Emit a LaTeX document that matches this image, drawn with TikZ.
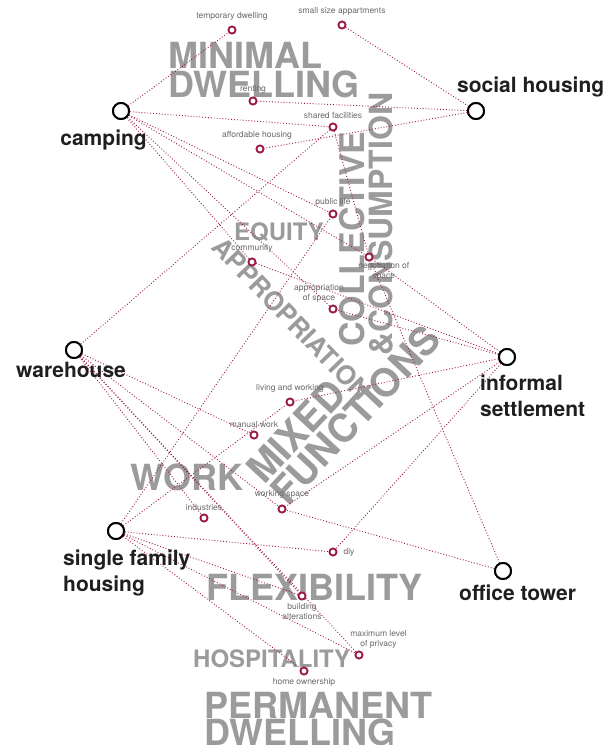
\documentclass[tikz,border=0pt]{standalone}
\usepackage{fontspec}
\setmainfont{TeX Gyre Heros}
\usetikzlibrary{positioning}
\definecolor{maroon}{RGB}{155,25,72}
\definecolor{wordgrey}{RGB}{155,155,155}
\definecolor{lblgrey}{RGB}{105,105,105}
\tikzset{
  hub/.style={circle,draw=black,line width=1.9pt,fill=white,minimum size=16pt,inner sep=0pt},
  spot/.style={circle,draw=maroon,line width=1.7pt,fill=white,minimum size=7pt,inner sep=0pt},
  link/.style={draw=maroon,dotted,line width=0.9pt},
  hublbl/.style={font=\fontsize{21}{26}\selectfont\bfseries,text=black!88,inner sep=0pt,align=left},
  spotlbl/.style={font=\fontsize{8.5}{10}\selectfont,text=lblgrey,inner sep=0pt,align=center},
  bigword/.style={font=\fontsize{36}{28}\selectfont\bfseries,text=wordgrey,inner sep=0pt,align=left},
  midword/.style={font=\fontsize{24}{25}\selectfont\bfseries,text=wordgrey,inner sep=0pt,align=left},
  tiltword/.style={font=\fontsize{#1}{28}\selectfont\bfseries,text=wordgrey,inner sep=0pt,anchor=base west}
}
\begin{document}
\begin{tikzpicture}[x=1pt,y=-1pt]
  \useasboundingbox (0,0) rectangle (611,745);
  % big grey words
  \node[bigword,anchor=base west] (minimal) at (168,68) {MINIMAL};
  \node[bigword,anchor=base west] (dwell1) at (168,97) {DWELLING};
  \node[midword,anchor=base west] (equity) at (234,240) {EQUITY};
  \node[bigword,anchor=base west] (work) at (130,490) {WORK};
  \node[bigword,anchor=base west] (flex) at (206,600) {FLEXIBILITY};
  \node[midword,anchor=base west] (hosp) at (193,667) {HOSPITALITY};
  \node[bigword,anchor=base west] (perm) at (204,718) {PERMANENT};
  \node[bigword,anchor=base west] (dwell2) at (204,745) {DWELLING};
  \node[tiltword=34,rotate=90] (coll) at (364,347) {COLLECTIVE};
  \node[tiltword=32,rotate=90] (cons) at (392,356) {\&CONSUMPTION};
  \node[tiltword=39,rotate=47] (mixed) at (264,486) {MIXED};
  \node[tiltword=39,rotate=47] (func) at (288,508) {FUNCTIONS};
  \node[tiltword=26,rotate=-46] (approp) at (210,248) {APPROPRIATION};

  % hubs
  \node[hub] (camping) at (121,111) {};
  \node[hub] (social) at (476,111) {};
  \node[hub] (warehouse) at (74,350) {};
  \node[hub] (informal) at (507,357) {};
  \node[hub] (single) at (116,531) {};
  \node[hub] (office) at (503,571) {};

  % spots
  \node[spot] (temp) at (232,30) {};
  \node[spot] (small) at (342,25) {};
  \node[spot] (rent) at (253,101) {};
  \node[spot] (shared) at (333,127) {};
  \node[spot] (afford) at (260,149) {};
  \node[spot] (public) at (333,214) {};
  \node[spot] (commun) at (252,262) {};
  \node[spot] (negot) at (369,257) {};
  \node[spot] (apprsp) at (333,309) {};
  \node[spot] (livwork) at (290,402) {};
  \node[spot] (manual) at (254,435) {};
  \node[spot] (workspace) at (282,509) {};
  \node[spot] (industry) at (204,518) {};
  \node[spot] (diy) at (333,552) {};
  \node[spot] (alter) at (302,596) {};
  \node[spot] (privacy) at (359,655) {};
  \node[spot] (owner) at (304,671) {};

  % links
  \foreach \a/\b in {camping/temp,camping/shared,camping/public,camping/negot,camping/apprsp,camping/commun,
                     social/small,social/rent,social/afford,
                     warehouse/shared,warehouse/manual,warehouse/workspace,warehouse/industry,warehouse/alter,warehouse/privacy,
                     informal/commun,informal/apprsp,informal/livwork,informal/workspace,informal/diy,informal/negot,
                     single/public,single/livwork,single/diy,single/alter,single/privacy,single/owner,
                     office/negot,office/workspace,shared/negot}
    \draw[link] (\a) -- (\b);
  \foreach \n in {camping,social,warehouse,informal,single,office}
    \node[hub] at (\n) {};
  \foreach \n in {temp,small,rent,shared,afford,public,commun,negot,apprsp,livwork,manual,workspace,industry,diy,alter,privacy,owner}
    \node[spot] at (\n) {};

  % hub labels
  \node[hublbl,anchor=base east] at (147,145) {camping};
  \node[hublbl,anchor=base west] at (457,92) {social housing};
  \node[hublbl,anchor=base west] at (16,377) {warehouse};
  \node[hublbl,anchor=base west] at (480,416) {informal\\settlement};
  \node[hublbl,anchor=base west] at (63,591) {single family\\housing};
  \node[hublbl,anchor=base west] at (459,600) {office tower};

  % spot labels
  \node[spotlbl,above=5pt of temp] {temporary dwelling};
  \node[spotlbl,above=5pt of small] {small size appartments};
  \node[spotlbl,above=3pt of rent] {renting};
  \node[spotlbl,above=4pt of shared] {shared facilities};
  \node[spotlbl,above=5pt of afford,xshift=-3pt] {affordable housing};
  \node[spotlbl,above=3pt of public] {public life};
  \node[spotlbl,above=5pt of commun] {community};
  \node[spotlbl,below right=2pt and -14pt of negot] {negotiation of\\space};
  \node[spotlbl,above left=3pt and -14pt of apprsp] {appropriation\\of space};
  \node[spotlbl,above=5pt of livwork] {living and working};
  \node[spotlbl,above=3pt of manual] {manual work};
  \node[spotlbl,above=6pt of workspace] {working space};
  \node[spotlbl,above=3pt of industry] {industries};
  \node[spotlbl,right=6pt of diy] {diy};
  \node[spotlbl,below=3pt of alter] {building\\alterations};
  \node[spotlbl,above right=3pt and -12pt of privacy] {maximum level\\of privacy};
  \node[spotlbl,below=3pt of owner] {home ownership};
\end{tikzpicture}
\end{document}
